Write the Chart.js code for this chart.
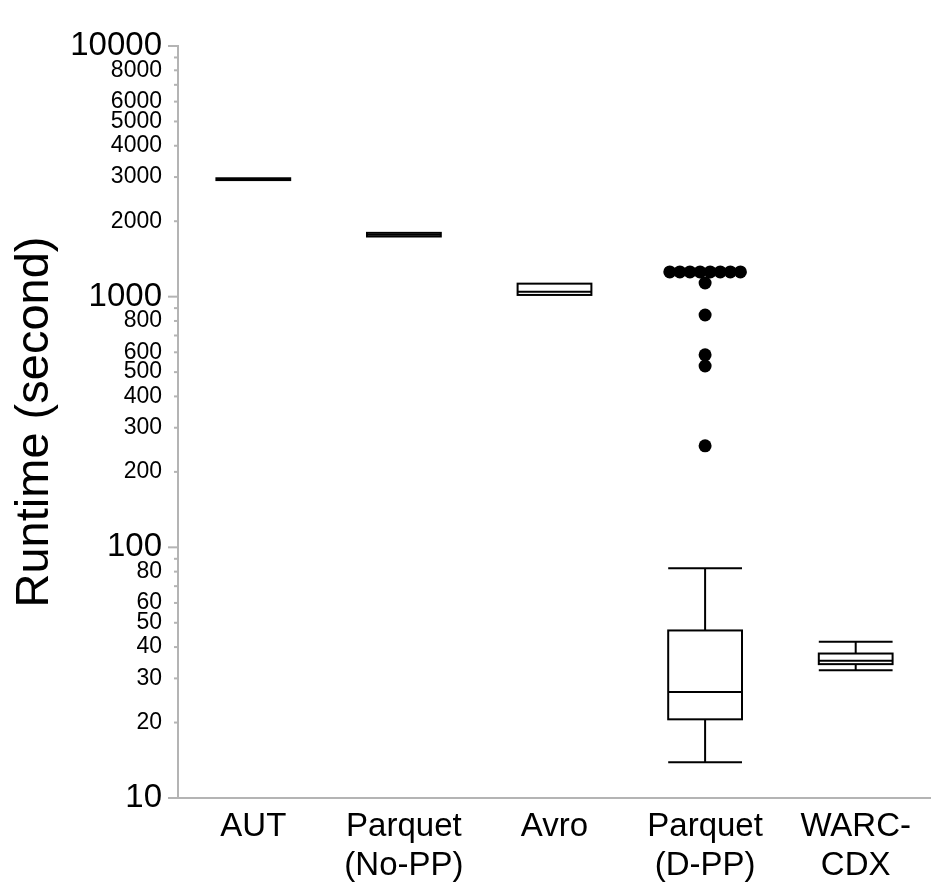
<!DOCTYPE html>
<html lang="en">
<head>
    <meta charset="UTF-8">
    <title>Runtime box plot</title>
    <script src="https://cdn.jsdelivr.net/npm/chart.js@4.4.1/dist/chart.umd.min.js"></script>
    <style>
        body {
            margin: 0;
            background: #fff;
            overflow: hidden;
        }
        #wrap {
            width: 931px;
            height: 888px;
        }
        canvas { display: block; }
    </style>
</head>
<body>
    <div id="wrap">
        <canvas id="runtimeChart" width="931" height="888"></canvas>
    </div>

    <script>
        // Categories (multi-line labels)
        const categories = [['AUT'], ['Parquet', '(No-PP)'], ['Avro'], ['Parquet', '(D-PP)'], ['WARC-', 'CDX']];

        // Box plot stats per category (seconds)
        const minValues    = [2918, 1738, 1016, 13.9, 32.3];
        const q1Values     = [2918, 1738, 1016, 20.6, 34.2];
        const medianValues = [2942, 1765, 1045, 26.5, 35.3];
        const q3Values     = [2967, 1797, 1127, 46.6, 37.7];
        const maxValues    = [2967, 1797, 1127, 82.6, 42.0];

        // Outliers per category
        const outlierValues = [
            [],
            [],
            [],
            [1255, 1255, 1255, 1255, 1255, 1255, 1255, 1255, 1134, 845, 586, 529, 254],
            []
        ];

        // Y axis ticks and their labels ('' = tick without label)
        const tickValues = [10, 20, 30, 40, 50, 60, 70, 80, 90,
                            100, 200, 300, 400, 500, 600, 700, 800, 900,
                            1000, 2000, 3000, 4000, 5000, 6000, 7000, 8000, 9000,
                            10000];
        const tickLabels = ['10', '20', '30', '40', '50', '60', '', '80', '',
                            '100', '200', '300', '400', '500', '600', '', '800', '',
                            '1000', '2000', '3000', '4000', '5000', '6000', '', '8000', '',
                            '10000'];

        const axisGray = '#b4b4b4';
        const fontFamily = "'Liberation Sans', Arial, Helvetica, sans-serif";
        const swarmStep = 0.067; // spacing of tied outliers, in category units

        // spread tied outliers side by side (simple swarm)
        const outlierPoints = [];
        outlierValues.forEach((vals, i) => {
            const counts = {};
            vals.forEach(v => counts[v] = (counts[v] || 0) + 1);
            const seen = {};
            vals.forEach(v => {
                const k = seen[v] || 0;
                seen[v] = k + 1;
                outlierPoints.push({ x: i + (k - (counts[v] - 1) / 2) * swarmStep, y: v });
            });
        });

        const isMajor = v => Math.abs(Math.log10(v) - Math.round(Math.log10(v))) < 1e-9;

        // box outline, whiskers, caps and medians over the (white) floating bars
        const boxPlotPlugin = {
            id: 'boxPlot',
            afterDatasetsDraw(chart) {
                const y = chart.scales.y;
                const meta = chart.getDatasetMeta(0);
                const ctx = chart.ctx;
                ctx.save();
                ctx.strokeStyle = '#000';
                ctx.lineWidth = 2;
                meta.data.forEach((bar, i) => {
                    const half = bar.width / 2;
                    const hline = v => {
                        const py = y.getPixelForValue(v);
                        ctx.beginPath();
                        ctx.moveTo(bar.x - half, py);
                        ctx.lineTo(bar.x + half, py);
                        ctx.stroke();
                    };
                    const vline = (a, b) => {
                        ctx.beginPath();
                        ctx.moveTo(bar.x, y.getPixelForValue(a));
                        ctx.lineTo(bar.x, y.getPixelForValue(b));
                        ctx.stroke();
                    };
                    if (maxValues[i] > q3Values[i]) {
                        vline(q3Values[i], maxValues[i]);
                        hline(maxValues[i]);
                    }
                    if (minValues[i] < q1Values[i]) {
                        vline(q1Values[i], minValues[i]);
                        hline(minValues[i]);
                    }
                    const top = y.getPixelForValue(q3Values[i]);
                    const bottom = y.getPixelForValue(q1Values[i]);
                    ctx.strokeRect(bar.x - half, top, half * 2, bottom - top);
                    hline(medianValues[i]);
                });
                ctx.restore();
            }
        };

        // y tick marks: long for decades, short otherwise
        const tickMarkPlugin = {
            id: 'tickMarks',
            afterDraw(chart) {
                const y = chart.scales.y;
                const ctx = chart.ctx;
                ctx.save();
                ctx.strokeStyle = axisGray;
                ctx.lineWidth = 2;
                y.ticks.forEach(t => {
                    const py = y.getPixelForValue(t.value);
                    const len = isMajor(t.value) ? 10 : 4;
                    ctx.beginPath();
                    ctx.moveTo(y.right - len, py);
                    ctx.lineTo(y.right, py);
                    ctx.stroke();
                });
                ctx.restore();
            }
        };

        Chart.defaults.font.family = fontFamily;
        Chart.defaults.color = '#000';

        const ctx = document.getElementById('runtimeChart').getContext('2d');
        new Chart(ctx, {
            type: 'bar',
            data: {
                labels: categories,
                datasets: [{
                    data: q1Values.map((q1, i) => [q1, q3Values[i]]),
                    backgroundColor: '#fff',
                    borderWidth: 0,
                    grouped: false,
                    barPercentage: 0.49,
                    categoryPercentage: 1.0
                }, {
                    type: 'scatter',
                    xAxisID: 'xo',
                    data: outlierPoints,
                    pointRadius: 6.5,
                    pointBackgroundColor: '#000',
                    pointBorderWidth: 0
                }]
            },
            options: {
                responsive: false,
                animation: false,
                layout: {
                    autoPadding: false,
                    padding: { top: 46, right: 0, bottom: 0, left: 0 }
                },
                plugins: {
                    legend: { display: false },
                    tooltip: { enabled: false }
                },
                scales: {
                    x: {
                        grid: { display: false, drawTicks: false },
                        border: { display: true, color: axisGray, width: 2 },
                        ticks: {
                            font: { size: 33, lineHeight: 1.17 },
                            padding: 10,
                            maxRotation: 0,
                            autoSkip: false
                        },
                        afterFit(s) {
                            s.height = 90;
                            s.paddingLeft = 0;
                            s.paddingRight = 0;
                        }
                    },
                    xo: {
                        type: 'linear',
                        display: false,
                        offset: false,
                        min: -0.5,
                        max: 4.5
                    },
                    y: {
                        type: 'logarithmic',
                        min: 10,
                        max: 10000,
                        grid: { display: false, drawTicks: false },
                        border: { display: true, color: axisGray, width: 2 },
                        afterBuildTicks(s) {
                            s.ticks = tickValues.map(v => ({ value: v, major: isMajor(v) }));
                        },
                        ticks: {
                            autoSkip: false,
                            padding: 16,
                            callback: (value, index) => tickLabels[index],
                            font: c => ({ size: c.tick && isMajor(c.tick.value) ? 33 : 23, lineHeight: 1 })
                        },
                        title: {
                            display: true,
                            text: 'Runtime (second)',
                            font: { size: 47 },
                            padding: { top: 7, bottom: 0 }
                        },
                        afterFit(s) {
                            s.width = 178;
                            s.paddingTop = 0;
                            s.paddingBottom = 0;
                        }
                    }
                }
            },
            plugins: [boxPlotPlugin, tickMarkPlugin]
        });
    </script>
</body>
</html>
